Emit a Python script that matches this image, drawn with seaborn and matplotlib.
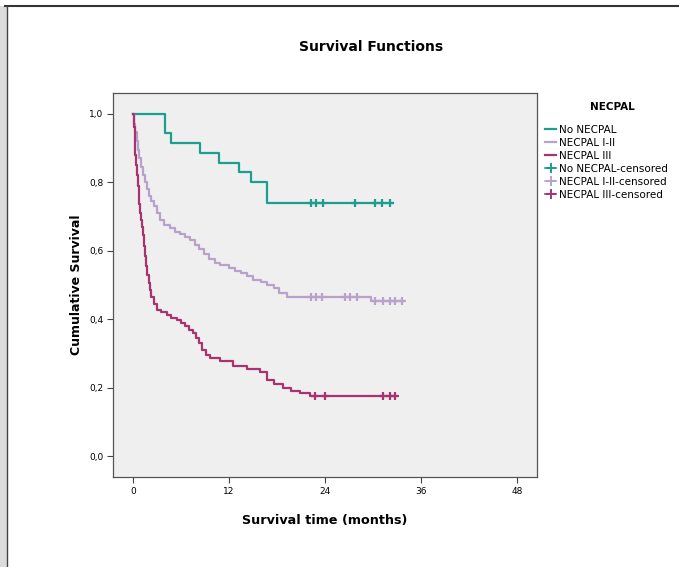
import matplotlib
matplotlib.use("Agg")
import pandas as pd
import seaborn as sns
import matplotlib.pyplot as plt
from matplotlib.lines import Line2D
from matplotlib.patches import Rectangle

# Kaplan-Meier step values (months, cumulative survival)
no_time = [0, 4.0, 4.8, 8.4, 10.7, 13.2, 14.8, 16.7, 32.5]
no_surv = [1.0, 0.943, 0.914, 0.886, 0.857, 0.829, 0.800, 0.740, 0.740]
no_cens = [22.3, 22.9, 23.8, 27.75, 30.25, 31.1, 32.1]

mid_time = [0, 0.15, 0.3, 0.45, 0.6, 0.8, 1.0, 1.2, 1.45, 1.7,
            2.0, 2.3, 2.6, 3.0, 3.4, 3.9, 4.6, 5.2, 5.9, 6.5,
            7.1, 7.7, 8.3, 8.9, 9.5, 10.2, 10.9, 12.0, 12.8, 13.5,
            14.3, 15.0, 16.0, 16.8, 17.6, 18.3, 19.2, 29.8, 33.6]
mid_surv = [1.0, 0.97, 0.945, 0.92, 0.895, 0.87, 0.845, 0.82, 0.80, 0.78,
            0.76, 0.745, 0.73, 0.71, 0.69, 0.675, 0.665, 0.655, 0.648, 0.64,
            0.63, 0.618, 0.605, 0.59, 0.575, 0.565, 0.558, 0.55, 0.542, 0.535,
            0.525, 0.515, 0.508, 0.50, 0.49, 0.478, 0.466, 0.452, 0.452]
mid_cens = [22.3, 22.9, 23.6, 26.5, 27.1, 28.0, 30.25, 31.3, 32.1, 32.75, 33.6]

hi_time = [0, 0.1, 0.2, 0.3, 0.4, 0.5, 0.6, 0.7, 0.8, 0.9,
           1.0, 1.1, 1.2, 1.35, 1.5, 1.65, 1.8, 1.95, 2.1, 2.3,
           2.6, 3.0, 3.5, 4.2, 4.8, 5.5, 6.0, 6.5, 7.0, 7.5,
           7.9, 8.2, 8.6, 9.1, 9.6, 10.9, 12.5, 14.2, 15.9, 16.7,
           17.6, 18.8, 19.8, 20.9, 22.1, 32.75]
hi_surv = [1.0, 0.96, 0.92, 0.88, 0.85, 0.82, 0.79, 0.76, 0.735, 0.71,
           0.69, 0.67, 0.645, 0.615, 0.585, 0.555, 0.53, 0.505, 0.485, 0.465,
           0.445, 0.428, 0.42, 0.413, 0.405, 0.398, 0.39, 0.38, 0.37, 0.36,
           0.345, 0.33, 0.31, 0.297, 0.287, 0.277, 0.265, 0.255, 0.245, 0.222,
           0.212, 0.2, 0.192, 0.185, 0.176, 0.176]
hi_cens = [22.75, 24.0, 31.3, 32.1, 32.75]

groups = ["No NECPAL", "NECPAL I-II", "NECPAL III"]
colors = ["#1c9f8f", "#b8a2cb", "#a8336f"]
x_ticks = [0, 12, 24, 36, 48]
y_ticks = [0.0, 0.2, 0.4, 0.6, 0.8, 1.0]

FONT = "DejaVu Sans"


def censor_values(times, surv, cens):
    # survival value at each censor time (step function lookup)
    out = []
    for c in cens:
        v = surv[0]
        for t, s in zip(times, surv):
            if t <= c:
                v = s
        out.append(v)
    return out


fig = plt.figure(figsize=(6.79, 5.67), dpi=100)
ax = fig.add_axes([113 / 679, 1 - 477 / 567, 424 / 679, 384 / 567])
ax.set_facecolor("#efefef")

curves = [(no_time, no_surv, no_cens), (mid_time, mid_surv, mid_cens), (hi_time, hi_surv, hi_cens)]
for name, col, (t, s, c) in zip(groups, colors, curves):
    df = pd.DataFrame({"time": t, "surv": s})
    sns.lineplot(data=df, x="time", y="surv", ax=ax, color=col, lw=1.6,
                 drawstyle="steps-post", estimator=None, sort=False)
    cdf = pd.DataFrame({"time": c, "surv": censor_values(t, s, c)})
    ax.plot(cdf["time"], cdf["surv"], ls="none", marker="+", ms=6,
            mew=1.6, color=col)

ax.set_xlim(-2.5, 50.5)
ax.set_ylim(-0.06, 1.06)
ax.set_xticks(x_ticks)
ax.set_xticklabels([str(v) for v in x_ticks], fontsize=6.5, family=FONT)
ax.set_yticks(y_ticks)
ax.set_yticklabels([f"{v:.1f}".replace(".", ",") for v in y_ticks], fontsize=6.5,
                   family=FONT)
ax.tick_params(length=4, width=0.8, color="#444444", pad=3)
for sp in ax.spines.values():
    sp.set_color("#555555")
    sp.set_linewidth(0.9)

ax.set_xlabel("Survival time (months)", fontsize=9.2, fontweight="bold",
              family=FONT, labelpad=13)
ax.set_ylabel("Cumulative Survival", fontsize=9, fontweight="bold",
              family=FONT, labelpad=4)

fig.text(371 / 679, 1 - 47 / 567, "Survival Functions", ha="center", va="center",
         fontsize=10, fontweight="bold", family=FONT)

# legend
fig.text(612 / 679, 1 - 107 / 567, "NECPAL", ha="center", va="center",
         fontsize=7.5, fontweight="bold", family=FONT)
handles = [Line2D([], [], color=c, lw=1.6) for c in colors]
handles += [Line2D([], [], color=c, lw=1.2, marker="+", ms=7, mew=1.4) for c in colors]
labels = groups + [g + "-censored" for g in groups]
fig.legend(handles, labels, loc="upper left", bbox_to_anchor=(545 / 679, 1 - 125 / 567),
           frameon=False, prop={"family": FONT, "size": 7.5},
           handlelength=1.1, handletextpad=0.2, labelspacing=0.28, borderpad=0,
           borderaxespad=0)

# page edges from the screenshot
fig.add_artist(Rectangle((0, 0), 7 / 679, 1 - 6 / 567, transform=fig.transFigure,
                         facecolor="#dcdcdc", edgecolor="none"))
fig.add_artist(Line2D([5 / 679, 1], [1 - 6 / 567, 1 - 6 / 567], transform=fig.transFigure,
                      color="#333333", lw=1.5))
fig.add_artist(Line2D([7 / 679, 7 / 679], [0, 1 - 6 / 567], transform=fig.transFigure,
                      color="#444444", lw=1.0))

fig.savefig("out.png", dpi=100)
